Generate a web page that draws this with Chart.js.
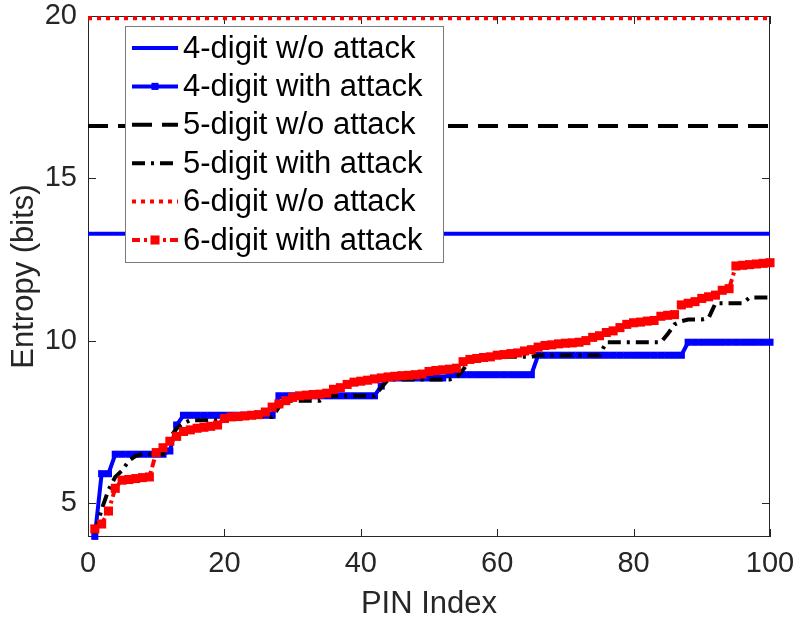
<!DOCTYPE html>
<html lang="en">
<head>
<meta charset="UTF-8">
<title>PIN Entropy</title>
<script src="https://cdn.jsdelivr.net/npm/chart.js@4.4.0/dist/chart.umd.min.js"></script>
<style>
  body { margin: 0; background: #fff; }
  canvas { display: block; }
</style>
</head>
<body>
<canvas id="entropy-chart" width="797" height="620"></canvas>
<script>
// axis ticks
const xTicks = [0, 20, 40, 60, 80, 100];
const yTicks = [5, 10, 15, 20];

// entropy of the whole PIN space, no attack (bits)
const fourDigitNoAttack = 13.29;
const fiveDigitNoAttack = 16.61;
const sixDigitNoAttack = 19.93;

// entropy after the attack, PIN index 1..100
const fourDigitAttack = [
  3.97, 5.9, 5.9, 6.5, 6.5, 6.5, 6.5, 6.5, 6.5, 6.5,
  6.5, 6.6, 7.4, 7.7, 7.7, 7.7, 7.7, 7.7, 7.7, 7.7,
  7.7, 7.7, 7.7, 7.7, 7.7, 7.7, 7.7, 8.3, 8.3, 8.3,
  8.3, 8.3, 8.3, 8.3, 8.3, 8.3, 8.3, 8.3, 8.3, 8.3,
  8.3, 8.3, 8.6, 8.85, 8.85, 8.85, 8.85, 8.85, 8.85, 8.85,
  8.85, 8.85, 8.95, 8.95, 8.95, 8.95, 8.95, 8.95, 8.95, 8.95,
  8.95, 8.95, 8.95, 8.95, 8.95, 9.55, 9.55, 9.55, 9.55, 9.55,
  9.55, 9.55, 9.55, 9.55, 9.55, 9.55, 9.55, 9.55, 9.55, 9.55,
  9.55, 9.55, 9.55, 9.55, 9.55, 9.55, 9.55, 9.95, 9.95, 9.95,
  9.95, 9.95, 9.95, 9.95, 9.95, 9.95, 9.95, 9.95, 9.95, 9.95
];
const fiveDigitAttack = [
  4.05, 4.8, 5.4, 5.8, 6.0, 6.3, 6.45, 6.5, 6.5, 6.5,
  6.5, 7.0, 7.3, 7.45, 7.55, 7.55, 7.55, 7.55, 7.55, 7.65,
  7.65, 7.65, 7.65, 7.65, 7.65, 7.65, 7.65, 7.95, 8.15, 8.15,
  8.15, 8.15, 8.15, 8.15, 8.3, 8.3, 8.3, 8.3, 8.3, 8.3,
  8.3, 8.3, 8.55, 8.8, 8.8, 8.8, 8.8, 8.8, 8.8, 8.8,
  8.8, 8.8, 8.8, 8.85, 9.1, 9.4, 9.5, 9.5, 9.5, 9.5,
  9.5, 9.5, 9.5, 9.5, 9.5, 9.55, 9.55, 9.55, 9.55, 9.55,
  9.55, 9.55, 9.55, 9.55, 9.55, 9.95, 9.95, 9.95, 9.95, 9.95,
  9.95, 9.95, 9.95, 9.95, 10.2, 10.5, 10.6, 10.65, 10.65, 10.65,
  10.7, 11.15, 11.15, 11.15, 11.15, 11.15, 11.33, 11.33, 11.33, 11.33
];
const sixDigitAttack = [
  4.2, 4.35, 4.75, 5.45, 5.7, 5.72, 5.75, 5.78, 5.8, 6.55,
  6.7, 6.9, 7.05, 7.2, 7.25, 7.3, 7.33, 7.36, 7.4, 7.6,
  7.65, 7.66, 7.68, 7.7, 7.72, 7.8, 7.95, 8.05, 8.15, 8.25,
  8.3, 8.32, 8.34, 8.35, 8.38, 8.5, 8.55, 8.65, 8.72, 8.75,
  8.78, 8.82, 8.85, 8.88, 8.9, 8.92, 8.93, 8.95, 8.97, 9.05,
  9.08, 9.1, 9.12, 9.15, 9.35, 9.42, 9.45, 9.48, 9.5, 9.55,
  9.57, 9.6, 9.62, 9.68, 9.72, 9.8, 9.85, 9.87, 9.9, 9.92,
  9.93, 9.95, 10.0, 10.1, 10.15, 10.25, 10.3, 10.4, 10.5, 10.55,
  10.57, 10.6, 10.62, 10.75, 10.78, 10.8, 11.1, 11.15, 11.2, 11.3,
  11.35, 11.4, 11.55, 11.6, 12.3, 12.32, 12.34, 12.36, 12.38, 12.4
];

const pinIndex = fourDigitAttack.map((_, i) => i + 1);

const FONT = '"Liberation Sans", Arial, Helvetica, sans-serif';
const AXIS_COLOR = '#262626';

function toPoints(values) {
  return values.map((v, i) => ({ x: pinIndex[i], y: v }));
}

function flatLine(v) {
  return [{ x: xTicks[0], y: v }, { x: xTicks[xTicks.length - 1], y: v }];
}

// box around the plot with inward tick marks on all four sides
const axisBox = {
  id: 'axisBox',
  beforeDatasetsDraw(chart) {
    const { ctx, chartArea: a, scales: { x, y } } = chart;
    const len = 8;
    ctx.save();
    ctx.strokeStyle = AXIS_COLOR;
    ctx.lineWidth = 1;
    ctx.strokeRect(a.left + 0.5, a.top + 0.5, a.right - a.left - 1, a.bottom - a.top - 1);
    ctx.beginPath();
    xTicks.forEach(v => {
      const px = Math.round(x.getPixelForValue(v)) + 0.5;
      ctx.moveTo(px, a.bottom); ctx.lineTo(px, a.bottom - len);
      ctx.moveTo(px, a.top); ctx.lineTo(px, a.top + len);
    });
    yTicks.forEach(v => {
      const py = Math.round(y.getPixelForValue(v)) + 0.5;
      ctx.moveTo(a.left, py); ctx.lineTo(a.left + len, py);
      ctx.moveTo(a.right, py); ctx.lineTo(a.right - len, py);
    });
    ctx.stroke();
    ctx.restore();
  }
};

// legend box in the upper left of the plot
const boxLegend = {
  id: 'boxLegend',
  afterDatasetsDraw(chart) {
    const ctx = chart.ctx;
    const left = 125, top = 26, w = 318, h = 236, rowH = 38.4;
    ctx.save();
    ctx.fillStyle = '#fff';
    ctx.fillRect(left, top, w, h);
    ctx.strokeStyle = '#7a7a7a';
    ctx.lineWidth = 1;
    ctx.strokeRect(left + 0.5, top + 0.5, w, h);
    chart.data.datasets.forEach((ds, i) => {
      const cy = top + 22 + i * rowH;
      ctx.strokeStyle = ds.borderColor;
      ctx.lineWidth = ds.borderWidth;
      ctx.setLineDash(ds.borderDash || []);
      ctx.beginPath();
      ctx.moveTo(left + 7, cy);
      ctx.lineTo(left + 53, cy);
      ctx.stroke();
      ctx.setLineDash([]);
      if (ds.pointRadius > 0) {
        const s = ds.pointRadius * Math.SQRT1_2;
        ctx.fillStyle = ds.pointBackgroundColor;
        ctx.fillRect(left + 30 - s, cy - s, 2 * s, 2 * s);
      }
      ctx.fillStyle = '#000';
      ctx.font = '31px ' + FONT;
      ctx.textBaseline = 'middle';
      ctx.textAlign = 'left';
      ctx.fillText(ds.label, left + 58, cy + 1);
    });
    ctx.restore();
  }
};

const ctx = document.getElementById('entropy-chart').getContext('2d');
new Chart(ctx, {
  type: 'line',
  data: {
    datasets: [
      {
        label: '4-digit w/o attack',
        data: flatLine(fourDigitNoAttack),
        borderColor: '#0000ff', borderWidth: 4, pointRadius: 0, order: 6
      },
      {
        label: '4-digit with attack',
        data: toPoints(fourDigitAttack),
        borderColor: '#0000ff', borderWidth: 4,
        pointStyle: 'rect', pointRadius: 5, pointBackgroundColor: '#0000ff',
        pointBorderWidth: 0, order: 5, clip: false
      },
      {
        label: '5-digit w/o attack',
        data: flatLine(fiveDigitNoAttack),
        borderColor: '#000', borderWidth: 4, borderDash: [20, 10],
        pointRadius: 0, order: 4
      },
      {
        label: '5-digit with attack',
        data: toPoints(fiveDigitAttack),
        borderColor: '#000', borderWidth: 4, borderDash: [13, 6, 3, 6],
        pointRadius: 0, order: 3, clip: false
      },
      {
        label: '6-digit w/o attack',
        data: flatLine(sixDigitNoAttack),
        borderColor: '#ff0000', borderWidth: 4, borderDash: [4, 5],
        pointRadius: 0, order: 2
      },
      {
        label: '6-digit with attack',
        data: toPoints(sixDigitAttack),
        borderColor: '#ff0000', borderWidth: 4, borderDash: [8, 4, 3, 4],
        pointStyle: 'rect', pointRadius: 6.4, pointBackgroundColor: '#ff0000',
        pointBorderWidth: 0, order: 1, clip: false
      }
    ]
  },
  options: {
    responsive: false,
    animation: false,
    layout: { padding: { top: 16, right: 27, left: 0, bottom: 0 } },
    plugins: { legend: { display: false }, tooltip: { enabled: false } },
    scales: {
      x: {
        type: 'linear', min: 0, max: 100,
        grid: { display: false, drawTicks: false },
        border: { display: false },
        afterBuildTicks: s => { s.ticks = xTicks.map(v => ({ value: v })); },
        afterFit: s => { s.height = 83; s.paddingLeft = 0; s.paddingRight = 0; },
        ticks: { font: { size: 29, family: FONT }, color: AXIS_COLOR, padding: 10, maxRotation: 0 },
        title: { display: true, text: 'PIN Index', font: { size: 31, family: FONT, lineHeight: 1 }, color: AXIS_COLOR, padding: 0 }
      },
      y: {
        type: 'linear', min: 3.95, max: 20,
        grid: { display: false, drawTicks: false },
        border: { display: false },
        afterBuildTicks: s => { s.ticks = yTicks.map(v => ({ value: v })); },
        afterFit: s => { s.width = 88; s.paddingTop = 0; s.paddingBottom = 0; },
        ticks: { font: { size: 29, family: FONT }, color: AXIS_COLOR, padding: 11 },
        title: { display: true, text: 'Entropy (bits)', font: { size: 31, family: FONT, lineHeight: 1 }, color: AXIS_COLOR, padding: { top: 9, bottom: 0 } }
      }
    }
  },
  plugins: [axisBox, boxLegend]
});
</script>
</body>
</html>
